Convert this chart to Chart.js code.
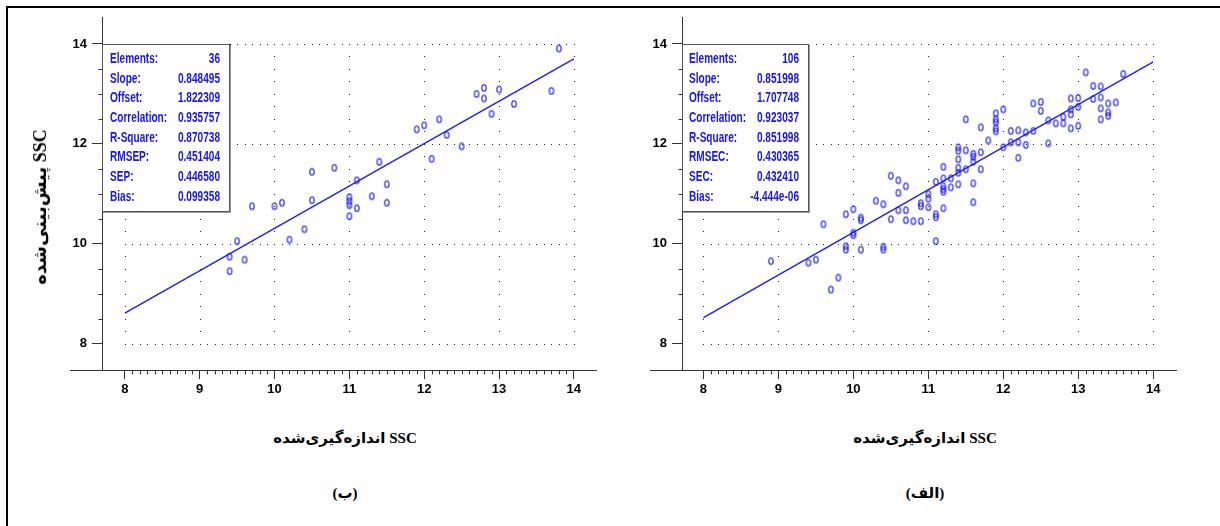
<!DOCTYPE html>
<html lang="fa">
<head>
<meta charset="UTF-8">
<title>SSC - calibration / prediction</title>
<style>
  body {
    margin: 0;
    width: 1220px;
    height: 526px;
    background: #fff;
    position: relative;
    overflow: hidden;
  }
  .frame {
    position: absolute;
    left: 6px;
    top: 6px;
    width: 1400px;
    height: 700px;
    border-top: 2px solid #000;
    border-left: 2px solid #000;
  }
  .panel {
    position: absolute;
    top: 0;
    width: 600px;
    height: 420px;
  }
  #panelB { left: 0; }
  #panelA { left: 580px; }
  .stats {
    position: absolute;
    top: 44px;
    height: 168px;
    box-sizing: border-box;
    background: #fff;
    border: 1px solid #555;
    box-shadow: 1px 1px 0 #999;
    font-family: 'Liberation Sans', Arial, sans-serif;
    font-weight: bold;
    font-size: 14px;
    color: #1414f5;
  }
  .stats div {
    display: flex;
    justify-content: space-between;
    height: 19.7px;
    line-height: 19.7px;
    width: calc(100% / 0.72);
    transform: scaleX(0.72);
    transform-origin: left center;
    white-space: nowrap;
  }
  #statsB { left: 102px; width: 128px; padding: 4px 9px 0 7px; }
  #statsA { left: 682px; width: 127px; padding: 4px 9px 0 6px; }
  .title {
    position: absolute;
    font-family: 'Liberation Serif', 'DejaVu Serif', 'DejaVu Sans', serif;
    font-weight: bold;
    font-size: 15px;
    color: #000;
    white-space: nowrap;
    direction: rtl;
    transform: translate(-50%, -50%);
  }
  .ytitle {
    font-size: 18px;
    transform: translate(-50%, -50%) rotate(-90deg);
  }
</style>
</head>
<body>
<div class="frame"></div>

<div class="panel" id="panelB"><canvas id="chartB" width="600" height="420"></canvas></div>
<div class="panel" id="panelA"><canvas id="chartA" width="600" height="420"></canvas></div>

<div class="stats" id="statsB"></div>
<div class="stats" id="statsA"></div>

<div class="title ytitle" style="left:40px; top:207px;">SSC پیش‌بینی‌شده</div>
<div class="title" style="left:345px; top:438px;">SSC اندازه‌گیری‌شده</div>
<div class="title" style="left:925px; top:438px;">SSC اندازه‌گیری‌شده</div>
<div class="title" style="left:345px; top:493px;">(ب)</div>
<div class="title" style="left:925px; top:493px;">(الف)</div>

<script src="https://cdn.jsdelivr.net/npm/chart.js"></script>
<script>
// axis ticks (both panels)
const xTicks = [8, 9, 10, 11, 12, 13, 14];
const yTicks = [8, 10, 12, 14];

// panel (ب) - prediction set, 36 samples
const measuredB = [9.4, 9.4, 9.5, 9.6, 9.7, 10.0, 10.1, 10.2, 10.4, 10.5, 10.5, 10.8,
    11.0, 11.0, 11.0, 11.0, 11.1, 11.1, 11.3, 11.4, 11.5, 11.5, 11.9, 12.0,
    12.1, 12.2, 12.3, 12.5, 12.7, 12.8, 12.8, 12.9, 13.0, 13.2, 13.7, 13.8];
const predictedB = [9.74, 9.45, 10.05, 9.68, 10.75, 10.75, 10.82, 10.08, 10.29, 10.87, 11.44, 11.52,
    10.93, 10.85, 10.77, 10.55, 11.27, 10.71, 10.95, 11.64, 11.19, 10.82, 12.29, 12.37,
    11.70, 12.49, 12.18, 11.95, 13.00, 13.12, 12.91, 12.60, 13.09, 12.80, 13.06, 13.91];
const fitXB = [8, 14];
const fitYB = [8.61, 13.70];
const statNamesB = ['Elements:', 'Slope:', 'Offset:', 'Correlation:', 'R-Square:', 'RMSEP:', 'SEP:', 'Bias:'];
const statValuesB = ['36', '0.848495', '1.822309', '0.935757', '0.870738', '0.451404', '0.446580', '0.099358'];

// panel (الف) - calibration set, 106 samples
const measuredA = [8.9, 9.4, 9.5, 9.6, 9.8, 9.7, 9.9, 9.9, 9.9, 10.0, 10.0, 10.0,
    10.1, 10.1, 10.1, 10.3, 10.4, 10.4, 10.4, 10.5, 10.5, 10.6, 10.6, 10.6,
    10.7, 10.7, 10.7, 10.8, 10.9, 10.9, 10.9, 11.0, 11.0, 11.0, 11.1, 11.1,
    11.1, 11.1, 11.2, 11.2, 11.2, 11.2, 11.2, 11.2, 11.3, 11.3, 11.4, 11.4,
    11.4, 11.4, 11.4, 11.4, 11.5, 11.5, 11.5, 11.6, 11.6, 11.6, 11.6, 11.6,
    11.7, 11.7, 11.7, 11.8, 11.9, 11.9, 11.9, 11.9, 11.9, 12.0, 12.0, 12.1,
    12.1, 12.2, 12.2, 12.2, 12.3, 12.3, 12.4, 12.4, 12.5, 12.5, 12.6, 12.6,
    12.7, 12.8, 12.8, 12.9, 12.9, 12.9, 12.9, 13.0, 13.0, 13.0, 13.1, 13.2,
    13.2, 13.3, 13.3, 13.3, 13.3, 13.4, 13.4, 13.4, 13.5, 13.6];
const predictedA = [9.65, 9.62, 9.68, 10.39, 9.32, 9.08, 10.59, 9.95, 9.88, 10.69, 10.22, 10.17,
    10.52, 10.47, 9.88, 10.86, 10.79, 9.94, 9.88, 10.49, 11.36, 11.02, 11.27, 10.67,
    11.15, 10.67, 10.47, 10.45, 10.81, 10.75, 10.45, 10.99, 10.90, 10.73, 11.24, 10.59,
    10.53, 10.05, 11.54, 11.31, 11.15, 11.09, 11.04, 10.71, 11.31, 11.13, 11.93, 11.86,
    11.69, 11.52, 11.42, 11.19, 12.49, 11.87, 11.49, 11.80, 11.74, 11.64, 11.21, 10.83,
    12.33, 11.83, 11.49, 12.07, 12.61, 12.49, 12.43, 12.31, 12.25, 12.69, 11.93, 12.26,
    12.03, 12.27, 12.03, 11.72, 12.23, 11.98, 12.81, 12.26, 12.84, 12.66, 12.47, 12.01,
    12.41, 12.54, 12.41, 12.91, 12.69, 12.59, 12.31, 12.92, 12.74, 12.36, 13.43, 13.16,
    12.90, 13.15, 12.93, 12.71, 12.49, 12.81, 12.63, 12.56, 12.83, 13.40];
const fitXA = [8, 14];
const fitYA = [8.52, 13.64];
const statNamesA = ['Elements:', 'Slope:', 'Offset:', 'Correlation:', 'R-Square:', 'RMSEC:', 'SEC:', 'Bias:'];
const statValuesA = ['106', '0.851998', '1.707748', '0.923037', '0.851998', '0.430365', '0.432410', '-4.444e-06'];

const BLUE = '#1a1aff';
const AXIS = '#333';
const tickFont = { family: "'Liberation Sans', Arial, sans-serif", size: 13, weight: 'bold' };

// small "o" shaped marker
function makeMarker() {
    const c = document.createElement('canvas');
    c.width = 8;
    c.height = 10;
    const g = c.getContext('2d');
    g.strokeStyle = BLUE;
    g.lineWidth = 1.1;
    g.beginPath();
    g.ellipse(4, 5, 2.2, 3.3, 0, 0, Math.PI * 2);
    g.stroke();
    return c;
}
const marker = makeMarker();

// dotted grid, minor ticks and the short axis stub left of the y axis
const axisDecor = {
    id: 'axisDecor',
    beforeDatasetsDraw(chart) {
        const ctx = chart.ctx;
        const xs = chart.scales.x, ys = chart.scales.y;
        const area = chart.chartArea;
        ctx.save();
        ctx.fillStyle = '#222';
        yTicks.forEach(v => {
            const py = Math.round(ys.getPixelForValue(v));
            for (let i = 80; i <= 140; i++) {
                ctx.fillRect(Math.round(xs.getPixelForValue(i / 10)), py, 1, 1);
            }
        });
        xTicks.forEach(v => {
            const px = Math.round(xs.getPixelForValue(v));
            for (let i = 32; i <= 56; i++) {
                ctx.fillRect(px, Math.round(ys.getPixelForValue(i / 4)), 1, 1);
            }
        });

        ctx.strokeStyle = AXIS;
        ctx.lineWidth = 1;
        ctx.beginPath();
        const by = Math.round(area.bottom) + 0.5;
        ctx.moveTo(area.left - 32, by);
        ctx.lineTo(area.left, by);
        for (let i = 80; i <= 140; i++) {
            if (i % 10 === 0) continue;
            const px = Math.round(xs.getPixelForValue(i / 10)) + 0.5;
            ctx.moveTo(px, by);
            ctx.lineTo(px, by + 4);
        }
        const lx = Math.round(area.left) + 0.5;
        for (let i = 16; i <= 28; i++) {
            if (i % 4 === 0) continue;
            const py = Math.round(ys.getPixelForValue(i / 2)) + 0.5;
            ctx.moveTo(lx, py);
            ctx.lineTo(lx - 4, py);
        }
        ctx.stroke();
        ctx.restore();
    }
};

function makeChart(id, xs, ys, fitX, fitY, xMin, xMax) {
    const pts = xs.map((x, i) => ({ x: x, y: ys[i] }));
    const fit = fitX.map((x, i) => ({ x: x, y: fitY[i] }));
    return new Chart(document.getElementById(id), {
        type: 'scatter',
        data: {
            datasets: [
                {
                    data: pts,
                    pointStyle: marker,
                    pointRadius: 3,
                    pointHoverRadius: 3
                },
                {
                    type: 'line',
                    data: fit,
                    borderColor: BLUE,
                    borderWidth: 1.3,
                    pointRadius: 0,
                    fill: false
                }
            ]
        },
        options: {
            responsive: false,
            animation: false,
            events: [],
            layout: { padding: { top: 17, left: 0, right: 0, bottom: 0 } },
            plugins: { legend: { display: false }, tooltip: { enabled: false } },
            scales: {
                x: {
                    type: 'linear',
                    position: 'bottom',
                    min: xMin,
                    max: xMax,
                    afterBuildTicks: a => { a.ticks = xTicks.map(v => ({ value: v })); },
                    afterFit: s => { s.height = 50; },
                    border: { display: true, color: AXIS, width: 1 },
                    grid: { drawOnChartArea: false, drawTicks: true, tickLength: 9, color: AXIS },
                    ticks: { font: tickFont, color: '#000', padding: 3, maxRotation: 0, autoSkip: false }
                },
                y: {
                    type: 'linear',
                    min: 7.47,
                    max: 14.54,
                    afterBuildTicks: a => { a.ticks = yTicks.map(v => ({ value: v })); },
                    afterFit: s => { s.width = 102; },
                    border: { display: true, color: AXIS, width: 1 },
                    grid: { drawOnChartArea: false, drawTicks: true, tickLength: 10, color: AXIS },
                    ticks: { font: tickFont, color: '#000', padding: 5, autoSkip: false }
                }
            }
        },
        plugins: [axisDecor]
    });
}

function fillStats(id, names, values) {
    const box = document.getElementById(id);
    names.forEach((n, i) => {
        const row = document.createElement('div');
        row.innerHTML = `<span>${n}</span><span>${values[i]}</span>`;
        box.appendChild(row);
    });
}

makeChart('chartB', measuredB, predictedB, fitXB, fitYB, 7.695, 14.296);
makeChart('chartA', measuredA, predictedA, fitXA, fitYA, 7.714, 14.304);
fillStats('statsB', statNamesB, statValuesB);
fillStats('statsA', statNamesA, statValuesA);
</script>
</body>
</html>
